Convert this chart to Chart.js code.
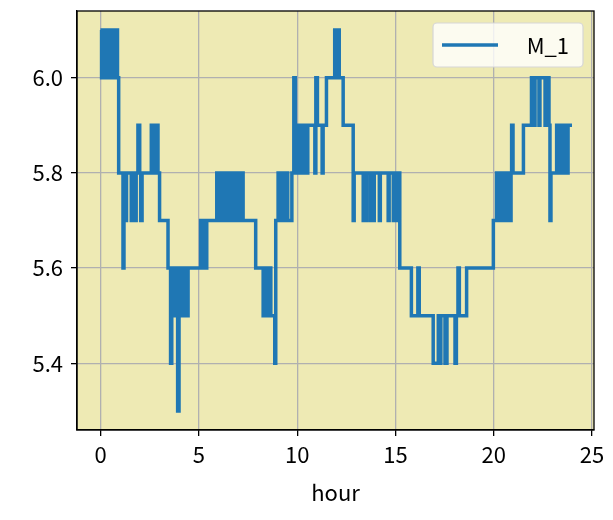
<!DOCTYPE html>
<html>
<head>
<meta charset="utf-8">
<script src="https://cdn.jsdelivr.net/npm/chart.js@4/dist/chart.umd.min.js"></script>
<style>
  body { margin: 0; background: #ffffff; }
  #wrap { width: 613px; height: 520px; }
</style>
</head>
<body>
<div id="wrap"><canvas id="chart" width="613" height="520"></canvas></div>
<script>
// series: time (hours) where the reading changes, and the new reading
const seriesLabel = 'M_1';
const hours = [
  0.00, 0.05, 0.08, 0.12, 0.15, 0.20, 0.24, 0.30, 0.33, 0.38, 0.42, 0.48, 0.52, 0.58, 0.62, 0.68, 0.72, 0.78, 0.82, 0.86,
  0.92, 1.14, 1.19, 1.27, 1.32, 1.56, 1.60, 1.65, 1.81, 1.90, 1.99, 2.04, 2.11,
  2.58, 2.62, 2.65, 2.72, 2.75, 2.82, 2.85, 2.92, 3.00,
  3.43, 3.56, 3.62, 3.69, 3.74, 3.80, 3.87, 3.92, 3.99, 4.07, 4.12, 4.23, 4.28, 4.45,
  5.09, 5.14, 5.19, 5.25, 5.30, 5.35, 5.40,
  5.91, 6.06, 6.16, 6.23, 6.28, 6.37, 6.42, 6.49, 6.54, 6.62, 6.67, 6.74, 6.79, 6.87, 6.93, 7.00, 7.05, 7.13, 7.18, 7.25,
  7.89, 8.27, 8.32, 8.40, 8.45, 8.52, 8.57, 8.66, 8.86, 8.91,
  9.03, 9.08, 9.17, 9.22, 9.29, 9.37, 9.42, 9.52, 9.73, 9.83, 9.91, 9.98,
  10.03, 10.10, 10.15, 10.24, 10.29, 10.36, 10.41, 10.49, 10.54, 10.90, 10.95,
  11.03, 11.27, 11.32, 11.49, 11.91, 11.97, 12.02, 12.14, 12.34,
  12.85, 12.90, 13.36, 13.41, 13.47, 13.52, 13.70, 13.75, 13.87, 13.92, 14.18, 14.23,
  14.63, 14.68, 14.89, 14.94, 15.07, 15.12, 15.22,
  15.81, 16.14, 16.21, 16.92, 17.18, 17.26, 17.31, 17.52, 17.62, 18.03, 18.10, 18.18, 18.25, 18.62,
  19.98, 20.14, 20.21, 20.37, 20.44, 20.49, 20.54, 20.62, 20.67, 20.74, 20.80, 20.88, 20.91, 20.98,
  21.51, 21.92, 22.05, 22.10, 22.30, 22.35, 22.61, 22.66, 22.81, 22.86, 22.91,
  23.20, 23.25, 23.30, 23.37, 23.42, 23.49, 23.54, 23.59, 23.65, 23.73, 23.78, 23.98
];
const values = [
  6.1, 6.0, 6.1, 6.0, 6.1, 6.0, 6.1, 6.0, 6.1, 6.0, 6.1, 6.0, 6.1, 6.0, 6.1, 6.0, 6.1, 6.0, 6.1, 6.0,
  5.8, 5.6, 5.8, 5.7, 5.8, 5.7, 5.8, 5.7, 5.8, 5.9, 5.8, 5.7, 5.8,
  5.9, 5.8, 5.9, 5.8, 5.9, 5.8, 5.9, 5.8, 5.7,
  5.6, 5.4, 5.6, 5.5, 5.6, 5.5, 5.6, 5.3, 5.5, 5.6, 5.5, 5.6, 5.5, 5.6,
  5.7, 5.6, 5.7, 5.6, 5.7, 5.6, 5.7,
  5.8, 5.7, 5.8, 5.7, 5.8, 5.7, 5.8, 5.7, 5.8, 5.7, 5.8, 5.7, 5.8, 5.7, 5.8, 5.7, 5.8, 5.7, 5.8, 5.7,
  5.6, 5.5, 5.6, 5.5, 5.6, 5.5, 5.6, 5.5, 5.4, 5.7,
  5.8, 5.7, 5.8, 5.7, 5.8, 5.7, 5.8, 5.7, 5.8, 6.0, 5.9, 5.8,
  5.9, 5.8, 5.9, 5.8, 5.9, 5.8, 5.9, 5.8, 5.9, 5.8, 6.0,
  5.9, 5.8, 5.9, 6.0, 6.1, 6.0, 6.1, 6.0, 5.9,
  5.7, 5.8, 5.7, 5.8, 5.7, 5.8, 5.7, 5.8, 5.7, 5.8, 5.7, 5.8,
  5.7, 5.8, 5.7, 5.8, 5.7, 5.8, 5.6,
  5.5, 5.6, 5.5, 5.4, 5.5, 5.4, 5.5, 5.4, 5.5, 5.4, 5.5, 5.6, 5.5, 5.6,
  5.7, 5.8, 5.7, 5.8, 5.7, 5.8, 5.7, 5.8, 5.7, 5.8, 5.7, 5.8, 5.9, 5.8,
  5.9, 6.0, 5.9, 6.0, 5.9, 6.0, 5.9, 6.0, 5.9, 5.7, 5.8,
  5.9, 5.8, 5.9, 5.8, 5.9, 5.8, 5.9, 5.8, 5.9, 5.8, 5.9, 5.9
];
const xTickStep = 5;
const yTickStep = 0.2;

const FONT = "'Noto Sans CJK JP', 'DejaVu Sans', sans-serif";

// khaki plot background + black frame round the axes
const frame = {
  id: 'frame',
  beforeDraw(chart) {
    const a = chart.chartArea, ctx = chart.ctx;
    ctx.save();
    ctx.fillStyle = '#eeeab4';
    ctx.fillRect(a.left, a.top, a.right - a.left, a.bottom - a.top);
    ctx.restore();
  },
  afterDatasetsDraw(chart) {
    const a = chart.chartArea, ctx = chart.ctx;
    ctx.save();
    ctx.strokeStyle = '#000000';
    ctx.lineWidth = 1.3;
    ctx.strokeRect(a.left, a.top, a.right - a.left, a.bottom - a.top);
    ctx.restore();
  }
};

// matplotlib-like legend box in the upper right corner
const cornerLegend = {
  id: 'cornerLegend',
  afterDraw(chart) {
    const ds = chart.data.datasets[0];
    const a = chart.chartArea, ctx = chart.ctx;
    const w = 150, h = 44;
    const x = a.right - 11 - w, y = a.top + 12;
    ctx.save();
    ctx.beginPath();
    ctx.roundRect(x, y, w, h, 4);
    ctx.fillStyle = 'rgba(255,255,255,0.8)';
    ctx.fill();
    ctx.strokeStyle = '#d6d6d6';
    ctx.lineWidth = 1.2;
    ctx.stroke();
    ctx.beginPath();
    ctx.moveTo(x + 9, y + h / 2);
    ctx.lineTo(x + 65, y + h / 2);
    ctx.strokeStyle = ds.borderColor;
    ctx.lineWidth = 3.5;
    ctx.stroke();
    ctx.fillStyle = '#000000';
    ctx.font = '22px ' + FONT;
    ctx.textAlign = 'right';
    ctx.textBaseline = 'middle';
    ctx.fillText(ds.label, x + w - 14, y + h / 2 + 1);
    ctx.restore();
  }
};

const points = hours.map((h, i) => ({ x: h, y: values[i] }));

new Chart(document.getElementById('chart'), {
  type: 'line',
  data: {
    datasets: [{
      label: seriesLabel,
      data: points,
      borderColor: '#1f77b4',
      borderWidth: 3.5,
      pointRadius: 0,
      stepped: true,
      fill: false
    }]
  },
  options: {
    responsive: false,
    devicePixelRatio: 1,
    animation: false,
    layout: { padding: { top: 11, right: 19, left: 0, bottom: 10 } },
    plugins: {
      legend: { display: false },
      tooltip: { enabled: false }
    },
    scales: {
      x: {
        type: 'linear',
        min: -1.2,
        max: 25.1,
        afterFit(scale) { scale.height = 80; },
        ticks: {
          stepSize: xTickStep,
          includeBounds: false,
          color: '#000000',
          font: { family: FONT, size: 22 },
          padding: 5
        },
        grid: { color: '#b0b0b0', lineWidth: 1.3, tickColor: '#000000', tickLength: 6 },
        border: { color: '#000000', width: 1.3 },
        title: {
          display: true,
          text: 'hour',
          color: '#000000',
          font: { family: FONT, size: 22 },
          padding: { top: 2 }
        }
      },
      y: {
        min: 5.26,
        max: 6.14,
        afterFit(scale) {
          scale.width = 77;
          scale.paddingTop = 0;
          scale.paddingBottom = 0;
        },
        ticks: {
          stepSize: yTickStep,
          includeBounds: false,
          color: '#000000',
          font: { family: FONT, size: 22 },
          padding: 8,
          callback: v => v.toFixed(1)
        },
        grid: { color: '#b0b0b0', lineWidth: 1.3, tickColor: '#000000', tickLength: 6 },
        border: { color: '#000000', width: 1.3 }
      }
    }
  },
  plugins: [frame, cornerLegend]
});
</script>
</body>
</html>
